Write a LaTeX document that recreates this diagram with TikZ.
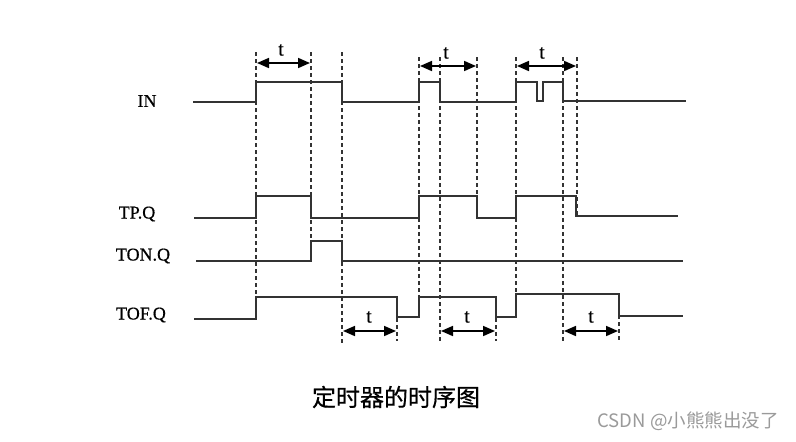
\documentclass[tikz,border=0pt]{standalone}
\usepackage{fontspec}
\setmainfont{Liberation Serif}
\newfontfamily\lblfont[FakeBold=0.5]{Liberation Serif}
\newfontfamily\cjk[FakeBold=0.6]{Noto Sans CJK SC}
\newfontfamily\cjkw{Noto Sans CJK SC}
\usetikzlibrary{arrows.meta}
\definecolor{sig}{HTML}{333333}
\definecolor{wm}{HTML}{9A9A9A}
\tikzset{
  signal/.style={draw=sig, line width=1.6pt, line join=miter},
  guide/.style={draw=sig, line width=1.1pt, dash pattern=on 4pt off 3pt},
  span/.style={draw=black, line width=1.7pt, {Triangle[length=12pt,width=10pt]}-{Triangle[length=12pt,width=10pt]}},
  siglabel/.style={font=\lblfont\fontsize{18}{20}\selectfont, text=black, inner sep=0pt},
  tlabel/.style={font=\lblfont\fontsize{20}{22}\selectfont, text=black, inner sep=0pt}
}
\begin{document}
\begin{tikzpicture}[x=1pt,y=-1pt]
\useasboundingbox[fill=white] (0,0) rectangle (796,442);
% labels
\node[siglabel] (lin) at (147,101) {IN};
\node[siglabel] (ltp) at (137,214) {TP.Q};
\node[siglabel] (lton) at (143,256) {TON.Q};
\node[siglabel] (ltof) at (141,315) {TOF.Q};
% guides
\draw[guide] (256,52) -- (256,319);
\draw[guide] (311,52) -- (311,261);
\draw[guide] (342,52) -- (342,343);
\draw[guide] (397,297) -- (397,341);
\draw[guide] (419,57) -- (419,317);
\draw[guide] (440,57) -- (440,341);
\draw[guide] (477,57) -- (477,218);
\draw[guide] (496,297) -- (496,341);
\draw[guide] (516,57) -- (516,317);
\draw[guide] (563,57) -- (563,341);
\draw[guide] (577,57) -- (577,216);
\draw[guide] (619,294) -- (619,341);
% signals
\draw[signal] (193,102) -- (256,102) -- (256,82) -- (342,82) -- (342,102) -- (419,102) -- (419,82) -- (440,82) -- (440,102) -- (516,102) -- (516,82) -- (537,82) -- (537,101) -- (543,101) -- (543,82) -- (563,82) -- (563,101) -- (686,101);
\draw[signal] (194,218) -- (256,218) -- (256,196) -- (311,196) -- (311,218) -- (419,218) -- (419,196) -- (477,196) -- (477,218) -- (516,218) -- (516,196) -- (576,196) -- (576,216) -- (678,216);
\draw[signal] (196,261) -- (311,261) -- (311,241) -- (342,241) -- (342,261) -- (683,261);
\draw[signal] (194,319) -- (256,319) -- (256,297) -- (397,297) -- (397,317) -- (419,317) -- (419,297) -- (496,297) -- (496,317) -- (516,317) -- (516,294) -- (619,294) -- (619,316) -- (683,316);
% spans
\coordinate (a1) at (257,63); \coordinate (b1) at (310,63);
\coordinate (a2) at (420,66); \coordinate (b2) at (476,66);
\coordinate (a3) at (517,66); \coordinate (b3) at (576,66);
\coordinate (a4) at (343,331); \coordinate (b4) at (396,331);
\coordinate (a5) at (441,331); \coordinate (b5) at (495,331);
\coordinate (a6) at (564,331); \coordinate (b6) at (618,331);
\foreach \i in {1,...,6} {\draw[span] (a\i) -- (b\i);}
\node[tlabel] (t1) at (281,50) {t};
\node[tlabel] (t2) at (446,53) {t};
\node[tlabel] (t3) at (542,53) {t};
\node[tlabel] (t4) at (369,317) {t};
\node[tlabel] (t5) at (467,317) {t};
\node[tlabel] (t6) at (591,317) {t};
% caption
\node[font=\cjk\fontsize{24}{26}\selectfont, inner sep=0pt] (cap) at (396,397) {定时器的时序图};
\node[font=\cjkw\fontsize{18.5}{20}\selectfont, text=wm, inner sep=0pt] (wmk) at (688,421) {CSDN @小熊熊出没了};
\end{tikzpicture}
\end{document}
